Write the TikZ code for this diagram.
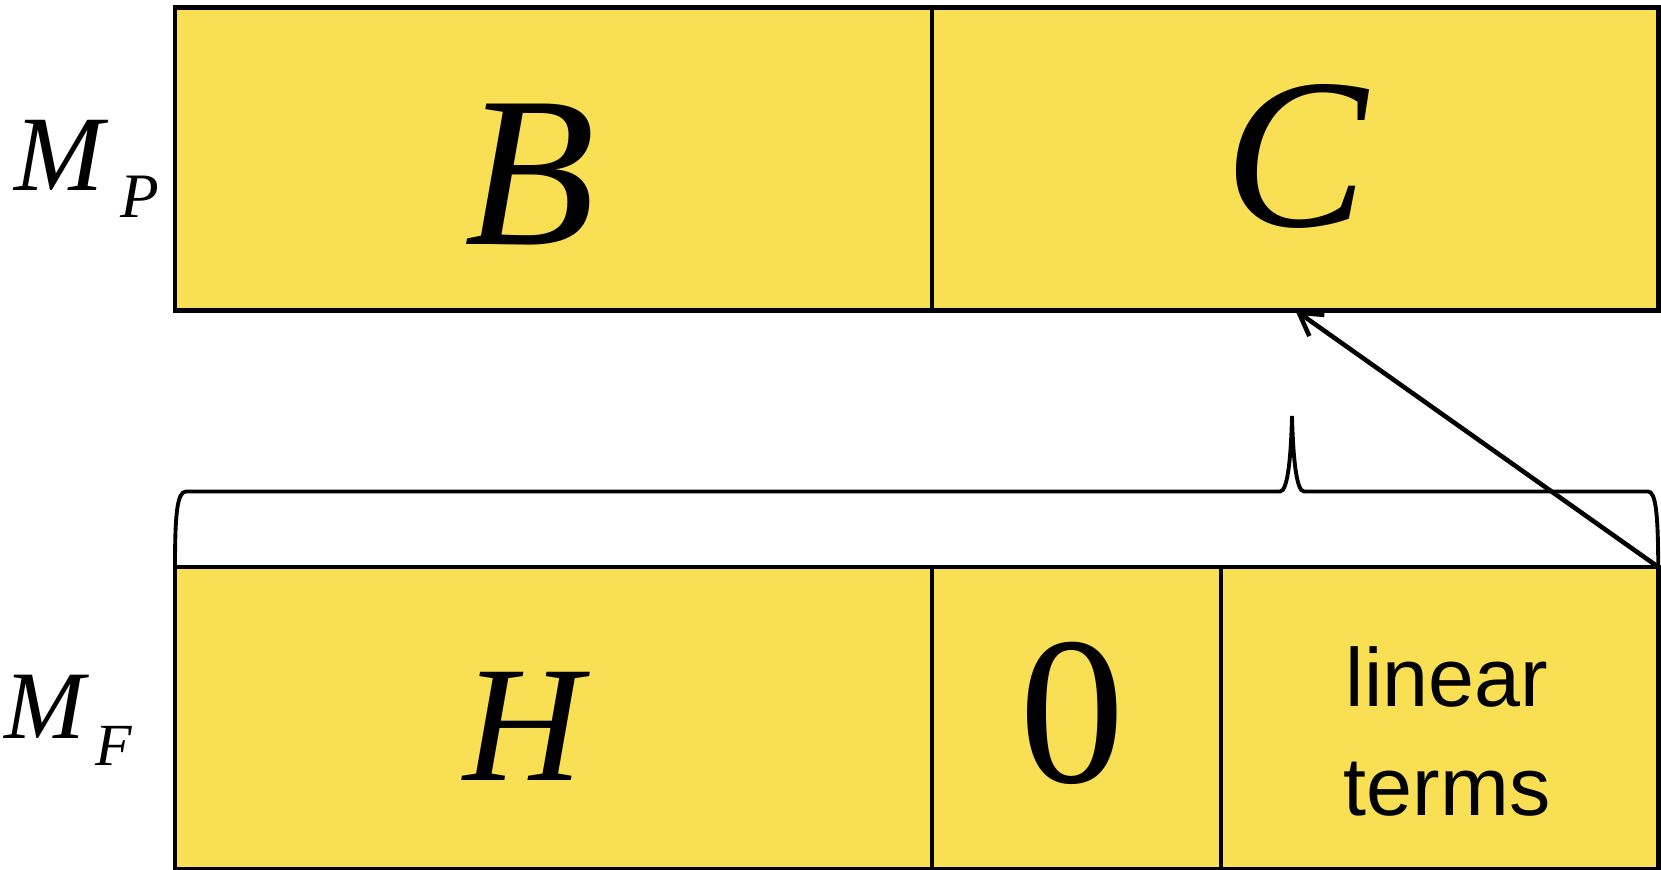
\documentclass[tikz,border=0pt]{standalone}
\usepackage{fontspec}
\setmainfont{Liberation Serif}
\newfontfamily\arialf{Liberation Sans}
\usetikzlibrary{arrows.meta}
\definecolor{boxyellow}{RGB}{249,223,83}
\begin{document}
\begin{tikzpicture}[x=0.01cm,y=-0.01cm,
  box/.style={draw=black, fill=boxyellow, line width=1.35pt, inner sep=0pt, outer sep=0pt, anchor=north west},
  bigital/.style={inner sep=0pt, anchor=base, font=\fontsize{61}{61}\selectfont\itshape},
  sidelabel/.style={inner sep=0pt, anchor=base west},
  bracepath/.style={draw=black, line width=1.1pt},
  arrowline/.style={draw=black, line width=1.3pt, -{Straight Barb[length=0.22cm,width=0.26cm]}}]
\useasboundingbox (0,0) rectangle (1661,870);
% top row
\node[box, minimum width=7.57cm, minimum height=3.026cm] (B) at (175,7.4) {};
\node[box, minimum width=7.26cm, minimum height=3.026cm] (C) at (932,7.4) {};
% bottom row
\node[box, minimum width=7.57cm, minimum height=3.02cm] (H) at (175,567) {};
\node[box, minimum width=2.89cm, minimum height=3.02cm] (Z) at (932,567) {};
\node[box, minimum width=4.37cm, minimum height=3.02cm] (L) at (1221,567) {};
% texts
\node[bigital] (Bt) at (530,244.7) {B};
\node[bigital] (Ct) at (1296,226) {C};
\node[inner sep=0pt, anchor=base, font=\fontsize{47}{47}\selectfont\itshape] (Ht) at (523,780.7) {H};
\node[inner sep=0pt, anchor=base, font=\fontsize{60}{60}\selectfont] (Zt) at (1072,782) {0};
\node[inner sep=0pt, align=center, font=\arialf\fontsize{23.5}{31}\selectfont] (Lt) at (1447,731) {linear\\terms};
% side labels
\node[sidelabel] (MP) at (14,190.7) {{\fontsize{30.5}{30.5}\selectfont\itshape M}\hspace{0.16cm}\raisebox{-0.265cm}{\fontsize{18}{18}\selectfont\itshape P}};
\node[sidelabel] (MF) at (4,738) {{\fontsize{27.5}{27.5}\selectfont\itshape M}\hspace{0.1cm}\raisebox{-0.27cm}{\fontsize{17}{17}\selectfont\itshape F}};
% brace
\coordinate (tip) at (1292,416);
\draw[bracepath] (H.north west) .. controls (175,515) and (177,491.5) .. (186,491.5)
  -- (1280,491.5) .. controls (1288,491.5) and (1291,455) .. (tip)
  .. controls (1293,455) and (1296,491.5) .. (1304,491.5)
  -- (1648,491.5) .. controls (1656,491.5) and (1658,515) .. (L.north east);
% arrow
\draw[arrowline] (L.north east) -- (C.south);
\end{tikzpicture}
\end{document}
